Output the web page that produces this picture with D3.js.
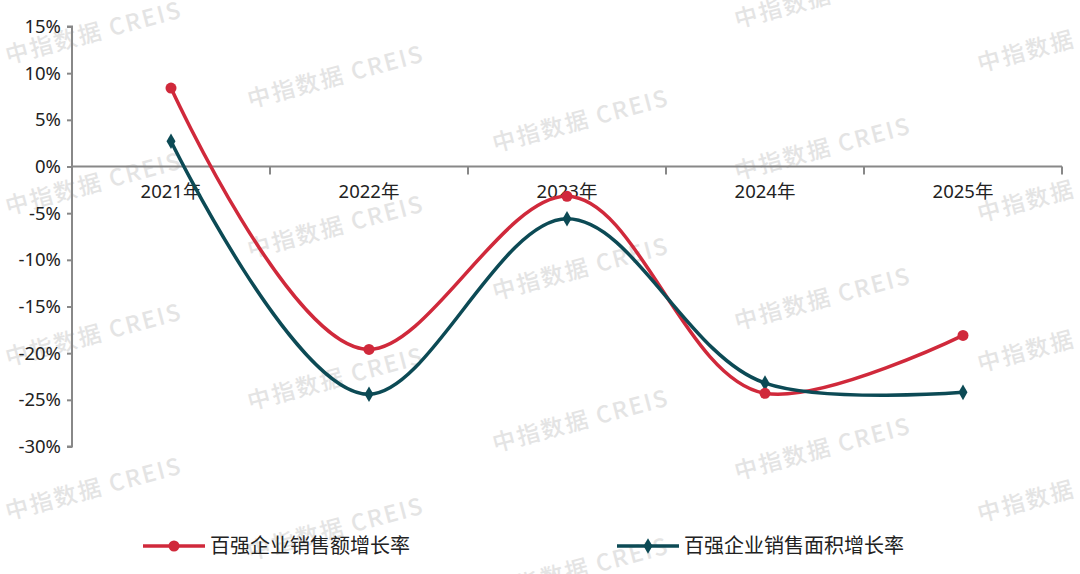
<!DOCTYPE html>
<html><head><meta charset="utf-8">
<script src="https://cdn.jsdelivr.net/npm/d3@7"></script>
<style>body{margin:0;background:#fff}svg{display:block}</style>
</head><body>
<svg id="c" width="1080" height="574"></svg>
<script>
const categories = ["2021年","2022年","2023年","2024年","2025年"];
const salesAmount = [8.4, -19.6, -3.2, -24.3, -18.1];
const salesArea = [2.7, -24.4, -5.6, -23.2, -24.2];
const seriesNames = ["百强企业销售额增长率","百强企业销售面积增长率"];
const yTicks = [15,10,5,0,-5,-10,-15,-20,-25,-30];
const watermarkText = "中指数据  CREIS";

const svg = d3.select("#c");
const font = "'Noto Sans', 'Noto Sans CJK SC', sans-serif";
const red = "#D0293B", teal = "#0C4A55";

// watermarks
const wmPos = [[8,64],[250,108],[495,152],[737,28],[980,72],
  [8,215],[250,258],[495,300],[737,180],[980,222],
  [8,366],[250,410],[495,452],[737,330],[980,372],
  [8,520],[250,560],[495,600],[737,480],[980,522]];
const wm = svg.append("g");
wmPos.forEach(p => {
  wm.append("text").attr("transform",`translate(${p[0]},${p[1]}) rotate(-15)`)
    .attr("font-family","'Noto Sans CJK SC', sans-serif").attr("font-size",23).attr("font-weight",500)
    .attr("fill","#e4e4e4").attr("letter-spacing",2).text(watermarkText);
});

const x = d3.scaleBand().domain(categories).range([72,1062]);
const y = d3.scaleLinear().domain([-30,15]).range([446.5,26.5]);

// y axis
const ya = svg.append("g").attr("transform","translate(72,0)")
  .call(d3.axisLeft(y).tickValues(yTicks).tickSize(5).tickFormat(d=>d+"%"));
ya.select(".domain").attr("stroke","#888").attr("stroke-width",2).attr("d",`M-5,${y(15)}H0V${y(-30)}H-5`);
ya.selectAll(".tick line").attr("stroke","#888").attr("stroke-width",2);
ya.selectAll(".tick text").attr("font-family",font).attr("font-size",18.5).attr("fill","#222").attr("x",-11);

// x axis at 0
const xa = svg.append("g").attr("transform",`translate(0,${y(0)})`)
  .call(d3.axisBottom(x).tickSize(0).tickPadding(0));
xa.select(".domain").attr("stroke","#888").attr("stroke-width",2).attr("d",`M72,0H1062`);
xa.selectAll(".tick text").attr("font-family",font).attr("font-size",18.5).attr("fill","#222").attr("dy","0").attr("y",31);
const bounds = categories.map(c=>x(c)).concat([x.range()[1]]).slice(1);
xa.selectAll(".bt").data(bounds).enter().append("line")
  .attr("x1",d=>d).attr("x2",d=>d).attr("y1",0).attr("y2",8)
  .attr("stroke","#888").attr("stroke-width",2);

const cx = c => x(c) + x.bandwidth()/2;
const line = d3.line().x((d,i)=>cx(categories[i])).y(d=>y(d)).curve(d3.curveCatmullRom.alpha(1));

svg.append("path").datum(salesAmount).attr("d",line).attr("fill","none").attr("stroke",red).attr("stroke-width",3.5);
svg.append("path").datum(salesArea).attr("d",line).attr("fill","none").attr("stroke",teal).attr("stroke-width",3.5);

const diamond = d3.symbol().type(d3.symbolDiamond).size(70);
svg.selectAll(".pa").data(salesArea).enter().append("path")
  .attr("transform",(d,i)=>`translate(${cx(categories[i])},${y(d)})`).attr("d",diamond).attr("fill",teal);
svg.selectAll(".ps").data(salesAmount).enter().append("circle")
  .attr("cx",(d,i)=>cx(categories[i])).attr("cy",d=>y(d)).attr("r",5.5).attr("fill",red);

// legend
const leg = [{x:143,c:red,m:"circle",n:seriesNames[0]},{x:617,c:teal,m:"diamond",n:seriesNames[1]}];
leg.forEach(l=>{
  const g = svg.append("g").attr("transform",`translate(${l.x},546)`);
  g.append("line").attr("x1",0).attr("x2",62).attr("stroke",l.c).attr("stroke-width",3.5);
  if(l.m==="circle") g.append("circle").attr("cx",31).attr("r",5.5).attr("fill",l.c);
  else g.append("path").attr("transform","translate(31,0)").attr("d",diamond).attr("fill",l.c);
  g.append("text").attr("x",67).attr("y",7).attr("font-family","'Noto Sans CJK SC', sans-serif").attr("font-size",20).attr("fill","#222").text(l.n);
});
</script>
</body></html>
